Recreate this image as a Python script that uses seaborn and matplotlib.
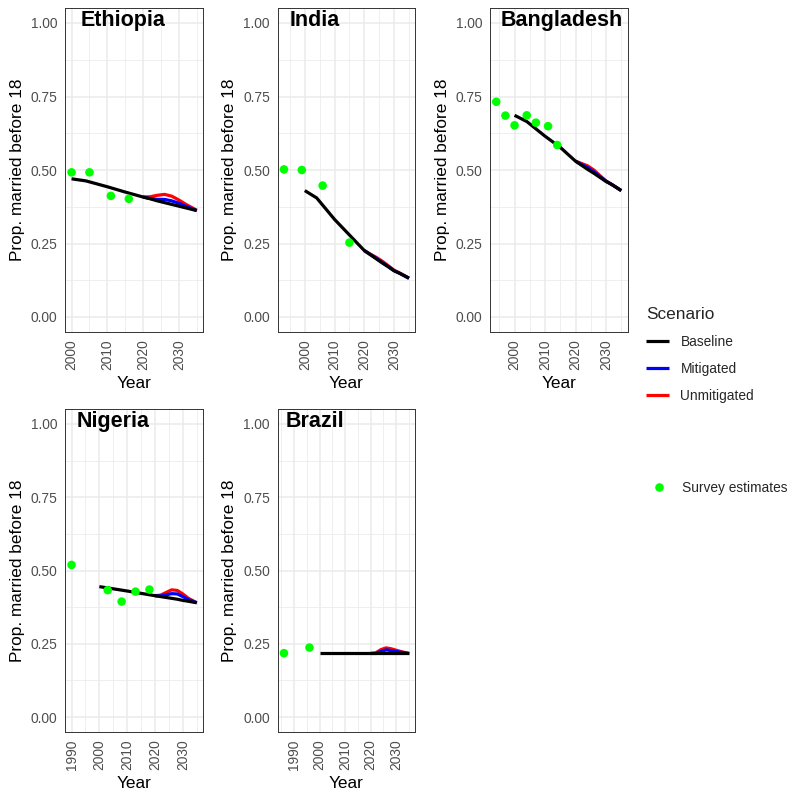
import numpy as np
import pandas as pd
import matplotlib
matplotlib.use("Agg")
import matplotlib.pyplot as plt
from matplotlib.lines import Line2D
from matplotlib.ticker import FixedLocator, FormatStrFormatter
import seaborn as sns

# ------------------------------------------------------------------
# data
# ------------------------------------------------------------------
countries = ["Ethiopia", "India", "Bangladesh", "Nigeria", "Brazil"]

model_years = [2000, 2004, 2010, 2015, 2020, 2022, 2024, 2026, 2028, 2030, 2032, 2035]
shock_years = [2020, 2022, 2024, 2026, 2028, 2030, 2032, 2035]

baseline = {
    "Ethiopia":   [0.470, 0.463, 0.443, 0.425, 0.408, 0.402, 0.395, 0.389, 0.383, 0.377, 0.371, 0.362],
    "India":      [0.430, 0.405, 0.332, 0.279, 0.226, 0.212, 0.198, 0.184, 0.171, 0.157, 0.148, 0.132],
    "Bangladesh": [0.686, 0.665, 0.615, 0.577, 0.530, 0.516, 0.502, 0.489, 0.475, 0.461, 0.450, 0.430],
    "Nigeria":    [0.445, 0.439, 0.430, 0.422, 0.414, 0.411, 0.408, 0.405, 0.402, 0.398, 0.395, 0.390],
    "Brazil":     [0.217, 0.217, 0.217, 0.217, 0.217, 0.217, 0.217, 0.217, 0.217, 0.217, 0.217, 0.217],
}
mitigated = {
    "Ethiopia":   [0.408, 0.403, 0.400, 0.400, 0.395, 0.387, 0.376, 0.362],
    "India":      [0.226, 0.213, 0.200, 0.186, 0.172, 0.158, 0.148, 0.132],
    "Bangladesh": [0.530, 0.519, 0.508, 0.494, 0.478, 0.462, 0.450, 0.430],
    "Nigeria":    [0.414, 0.413, 0.417, 0.421, 0.420, 0.411, 0.401, 0.390],
    "Brazil":     [0.217, 0.217, 0.224, 0.229, 0.227, 0.224, 0.221, 0.217],
}
unmitigated = {
    "Ethiopia":   [0.408, 0.409, 0.414, 0.417, 0.411, 0.398, 0.383, 0.363],
    "India":      [0.226, 0.214, 0.203, 0.190, 0.175, 0.159, 0.149, 0.132],
    "Bangladesh": [0.530, 0.522, 0.514, 0.500, 0.481, 0.463, 0.450, 0.430],
    "Nigeria":    [0.414, 0.416, 0.425, 0.434, 0.432, 0.420, 0.405, 0.390],
    "Brazil":     [0.217, 0.219, 0.230, 0.236, 0.233, 0.228, 0.223, 0.217],
}

survey_years = {
    "Ethiopia":   [2000, 2005, 2011, 2016],
    "India":      [1993, 1999, 2006, 2015],
    "Bangladesh": [1994, 1997, 2000, 2004, 2007, 2011, 2014],
    "Nigeria":    [1990, 2003, 2008, 2013, 2018],
    "Brazil":     [1986, 1996],
}
survey_values = {
    "Ethiopia":   [0.492, 0.492, 0.412, 0.402],
    "India":      [0.502, 0.500, 0.447, 0.253],
    "Bangladesh": [0.732, 0.685, 0.652, 0.686, 0.661, 0.649, 0.585],
    "Nigeria":    [0.519, 0.433, 0.394, 0.428, 0.435],
    "Brazil":     [0.218, 0.237],
}

scenario_colors = {"Baseline": "black", "Mitigated": "blue", "Unmitigated": "red"}
draw_order = ["Unmitigated", "Mitigated", "Baseline"]
survey_color = "#00FF00"

# ------------------------------------------------------------------
# layout (pixels of a 791x802 canvas: left, top, right, bottom)
# ------------------------------------------------------------------
W, H = 791, 802
panel_box = {
    "Ethiopia":   (65.3, 8.3, 203.0, 331.7),
    "India":      (277.7, 8.3, 415.2, 331.7),
    "Bangladesh": (490.0, 8.3, 627.5, 331.7),
    "Nigeria":    (65.3, 409.3, 203.0, 731.7),
    "Brazil":     (277.7, 409.3, 415.2, 731.7),
}
title_offset = {"Ethiopia": 15, "India": 12, "Bangladesh": 11, "Nigeria": 11, "Brazil": 8}

sns.set_theme(style="whitegrid")
plt.rcParams["font.family"] = ["Liberation Sans", "DejaVu Sans"]

fig = plt.figure(figsize=(W / 100, H / 100), dpi=100)
fig.patch.set_facecolor("white")

for country in countries:
    l, t, r, b = panel_box[country]
    ax = fig.add_axes([l / W, 1 - b / H, (r - l) / W, (b - t) / H])
    ax.set_facecolor("white")

    # long table for seaborn
    frames = [pd.DataFrame({"Year": model_years, "Prop": baseline[country], "Scenario": "Baseline"}),
              pd.DataFrame({"Year": shock_years, "Prop": mitigated[country], "Scenario": "Mitigated"}),
              pd.DataFrame({"Year": shock_years, "Prop": unmitigated[country], "Scenario": "Unmitigated"})]
    df = pd.concat(frames, ignore_index=True)

    sns.lineplot(data=df, x="Year", y="Prop", hue="Scenario", hue_order=draw_order,
                 palette=scenario_colors, linewidth=2.3, estimator=None,
                 legend=False, ax=ax, solid_capstyle="butt")
    sns.scatterplot(x=survey_years[country], y=survey_values[country], color=survey_color,
                    s=38, edgecolor="none", linewidth=0, ax=ax, zorder=5)

    # ggplot-like limits with 5% expansion
    lo = min(min(survey_years[country]), min(model_years))
    hi = max(model_years)
    span = hi - lo
    ax.set_xlim(lo - 0.05 * span, hi + 0.05 * span)
    ax.set_ylim(-0.05, 1.05)

    majors = np.arange(np.ceil(lo / 10) * 10, hi + 1, 10)
    minors = np.arange(np.floor(lo / 10) * 10 - 5, hi + 10, 10)
    ax.xaxis.set_major_locator(FixedLocator(majors))
    ax.xaxis.set_minor_locator(FixedLocator(minors))
    ax.yaxis.set_major_locator(FixedLocator([0, 0.25, 0.5, 0.75, 1.0]))
    ax.yaxis.set_minor_locator(FixedLocator([0.125, 0.375, 0.625, 0.875]))
    ax.yaxis.set_major_formatter(FormatStrFormatter("%.2f"))
    ax.xaxis.set_major_formatter(FormatStrFormatter("%d"))

    ax.grid(which="major", color="#EBEBEB", linewidth=1.1)
    ax.grid(which="minor", color="#EBEBEB", linewidth=0.55)
    ax.set_axisbelow(True)

    for sp in ax.spines.values():
        sp.set_visible(True)
        sp.set_color("#333333")
        sp.set_linewidth(0.7)

    ax.tick_params(which="major", length=3.1, width=0.7, color="#333333",
                   labelsize=9.9, labelcolor="#4D4D4D", pad=2.5)
    ax.tick_params(which="minor", length=0)
    ax.tick_params(axis="x", labelrotation=90)
    for lab in ax.get_xticklabels():
        lab.set_va("top")

    ax.set_xlabel("Year", fontsize=12.4, color="black", labelpad=4.5)
    ax.set_ylabel("Prop. married before 18", fontsize=12.4, color="black", labelpad=4)

    ax.annotate(country, xy=(0, 1), xycoords="axes fraction",
                xytext=(title_offset[country] * 0.72, -1), textcoords="offset points",
                ha="left", va="top", fontsize=15.5, fontweight="bold", color="black")

# legends
scen_handles = [Line2D([], [], color=scenario_colors[s], linewidth=2.3, solid_capstyle="butt")
                for s in ["Baseline", "Mitigated", "Unmitigated"]]
leg1 = fig.legend(scen_handles, ["Baseline", "Mitigated", "Unmitigated"], title="Scenario",
                  loc="upper left", bbox_to_anchor=(646 / W, 1 - 307 / H), frameon=False,
                  fontsize=9.9, title_fontsize=12.4, handlelength=1.65, handletextpad=0.85,
                  labelspacing=0.95, borderpad=0, borderaxespad=0)
leg1._legend_box.align = "left"
leg1._legend_box.sep = 9

surv_handle = [Line2D([], [], marker="o", linestyle="none", color=survey_color,
                      markersize=6.2, markeredgewidth=0)]
fig.legend(surv_handle, ["Survey estimates"], loc="upper left",
           bbox_to_anchor=(648 / W, 1 - 481 / H), frameon=False, fontsize=9.9,
           handlelength=1.65, handletextpad=0.85, borderpad=0, borderaxespad=0)

fig.savefig("out.png", dpi=100, facecolor="white")
